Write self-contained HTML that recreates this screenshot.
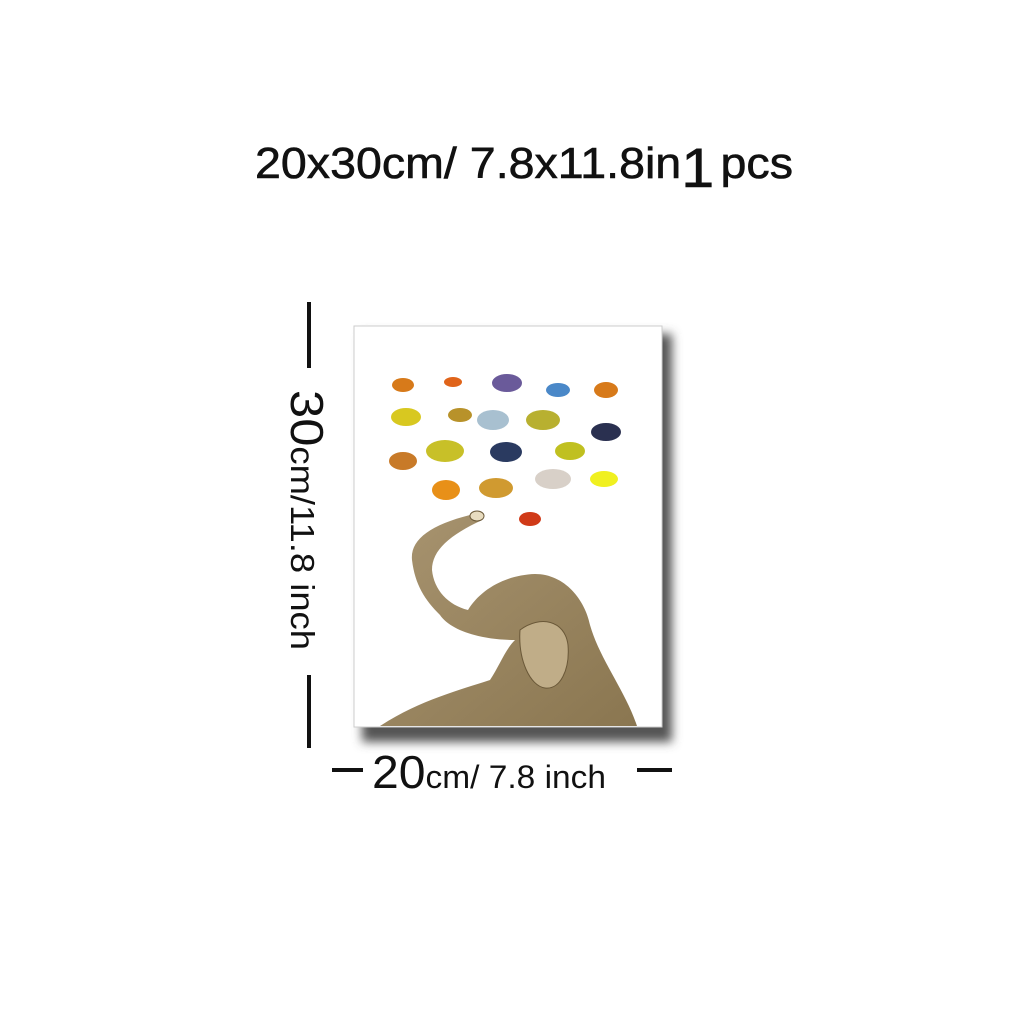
<!DOCTYPE html>
<html><head><meta charset="utf-8"><style>
html,body{margin:0;padding:0;background:#fff;width:1024px;height:1024px;overflow:hidden;font-family:"Liberation Sans",sans-serif}
</style></head><body>
<svg width="1024" height="1024" viewBox="0 0 1024 1024">
<defs>
<filter id="sh" x="-10%" y="-10%" width="130%" height="130%"><feGaussianBlur stdDeviation="5"/></filter>
<linearGradient id="el" x1="0" y1="0" x2="1" y2="1"><stop offset="0" stop-color="#a89470"/><stop offset="1" stop-color="#8a7650"/></linearGradient>
</defs>
<text x="255" y="178" font-size="44" fill="#111" stroke="#111" stroke-width="0.6" textLength="538" lengthAdjust="spacingAndGlyphs">20x30cm/ 7.8x11.8in<tspan font-size="56" dy="9">1</tspan><tspan font-size="44" dy="-9" dx="6">pcs</tspan></text>

<rect x="362" y="334" width="310" height="408" fill="#555" filter="url(#sh)"/>
<rect x="354" y="326" width="308" height="401" fill="#fff" stroke="#ccc" stroke-width="1"/>

<g>
<g fill="#d77a1a"><ellipse cx="403" cy="385" rx="11" ry="7"/><ellipse cx="453" cy="382" rx="9" ry="5" fill="#e0641a"/><ellipse cx="606" cy="390" rx="12" ry="8"/></g>
<ellipse cx="507" cy="383" rx="15" ry="9" fill="#6a5a9a"/>
<ellipse cx="558" cy="390" rx="12" ry="7" fill="#4a88c8"/>
<ellipse cx="406" cy="417" rx="15" ry="9" fill="#d8c820"/>
<ellipse cx="460" cy="415" rx="12" ry="7" fill="#b8922a"/>
<ellipse cx="493" cy="420" rx="16" ry="10" fill="#a8c0d0"/>
<ellipse cx="543" cy="420" rx="17" ry="10" fill="#b8b030"/>
<ellipse cx="606" cy="432" rx="15" ry="9" fill="#2a3050"/>
<ellipse cx="403" cy="461" rx="14" ry="9" fill="#c87a28"/>
<ellipse cx="445" cy="451" rx="19" ry="11" fill="#c8c028"/>
<ellipse cx="506" cy="452" rx="16" ry="10" fill="#2a3a60"/>
<ellipse cx="570" cy="451" rx="15" ry="9" fill="#c0c020"/>
<ellipse cx="446" cy="490" rx="14" ry="10" fill="#e89018"/>
<ellipse cx="496" cy="488" rx="17" ry="10" fill="#d09a30"/>
<ellipse cx="553" cy="479" rx="18" ry="10" fill="#d8d0c8"/>
<ellipse cx="604" cy="479" rx="14" ry="8" fill="#f0f020"/>
<ellipse cx="530" cy="519" rx="11" ry="7" fill="#d03a18"/>
</g>

<g>
<path d="M380 726 C420 700 460 690 490 680 C500 665 505 650 515 640 C480 640 450 630 440 615 C425 600 415 585 412 560 C410 540 430 525 470 515 L482 520 C450 535 432 550 432 570 C434 590 448 605 468 610 C480 590 505 575 535 574 C565 574 585 600 590 625 C600 660 625 690 637 726 Z" fill="url(#el)"/>
<path d="M520 630 C540 615 565 620 568 645 C570 670 560 690 545 688 C530 686 518 660 520 630 Z" fill="#c0ad88" stroke="#6a5838" stroke-width="1"/>
<ellipse cx="477" cy="516" rx="7" ry="5" fill="#e8dcc0" stroke="#6a5838"/>
</g>

<rect x="307" y="302" width="4" height="66" fill="#111"/>
<rect x="307" y="675" width="4" height="73" fill="#111"/>
<text transform="translate(291,390) rotate(90)" font-size="33" fill="#111" textLength="260" lengthAdjust="spacingAndGlyphs"><tspan font-size="46">30</tspan>cm/11.8 inch</text>

<rect x="332" y="768" width="31" height="4" fill="#111"/>
<rect x="637" y="768" width="35" height="4" fill="#111"/>
<text x="372" y="788" font-size="32" fill="#111" textLength="234" lengthAdjust="spacingAndGlyphs"><tspan font-size="46">20</tspan>cm/ 7.8 inch</text>
</svg>
</body></html>
